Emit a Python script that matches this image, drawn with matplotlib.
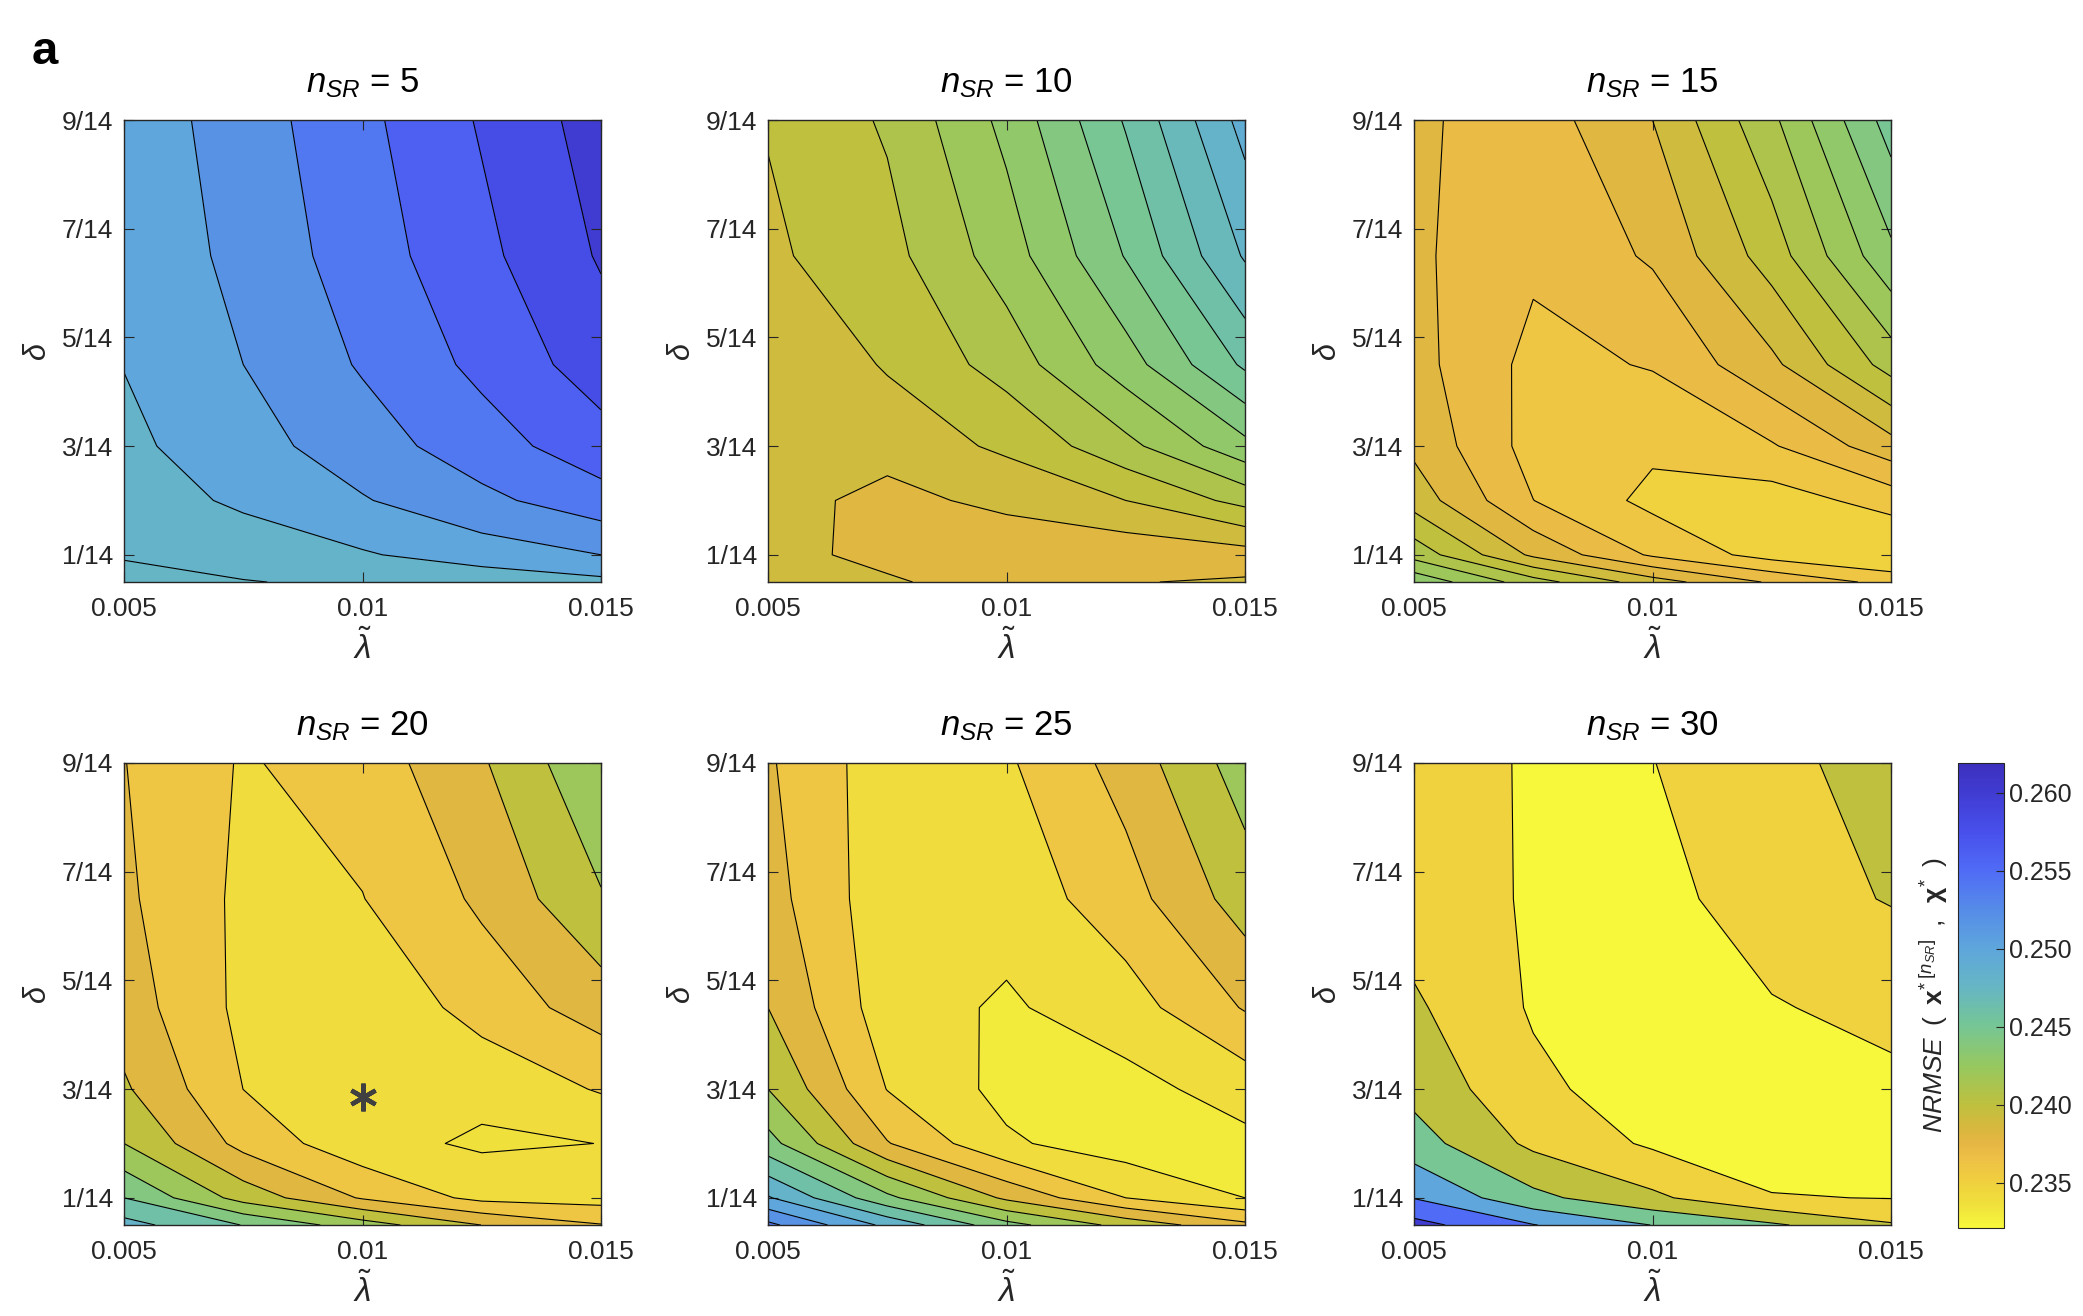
import numpy as np
import matplotlib
matplotlib.use('Agg')
import matplotlib.pyplot as plt
from matplotlib.colors import LinearSegmentedColormap, Normalize

plt.rcParams['font.family'] = 'Liberation Sans'
plt.rcParams['mathtext.fontset'] = 'custom'
plt.rcParams['mathtext.rm'] = 'Liberation Sans'
plt.rcParams['mathtext.it'] = 'Liberation Sans:italic'
plt.rcParams['mathtext.bf'] = 'Liberation Sans:bold'

# grid of the parameter sweep
lam = [0.005, 0.0075, 0.01, 0.0125, 0.015]
delta = [0.5 / 14, 1 / 14, 2 / 14, 3 / 14, 4.5 / 14, 6.5 / 14, 9 / 14]

n_sr = [5, 10, 15, 20, 25, 30]

# NRMSE values, one row per delta (bottom to top), one column per lambda
nrmse_5 = [
    [0.2476, 0.2479, 0.2484, 0.2487, 0.2495],
    [0.2481, 0.2490, 0.2498, 0.2510, 0.2520],
    [0.2491, 0.2503, 0.25185, 0.2535, 0.2552],
    [0.24954, 0.25121, 0.25307, 0.2551, 0.2572],
    [0.25005, 0.2520, 0.2542, 0.2565, 0.2590],
    [0.2504, 0.2526, 0.2550, 0.2575, 0.2602],
    [0.2507, 0.2530, 0.2555, 0.2582, 0.2609],
]
nrmse_10 = [
    [0.2395, 0.23927, 0.2380, 0.23896, 0.2391],
    [0.2397, 0.2384, 0.2380, 0.2383, 0.23856],
    [0.23952, 0.2386, 0.23935, 0.2400, 0.24133],
    [0.2393, 0.23948, 0.24016, 0.2417, 0.2437],
    [0.2392, 0.24008, 0.24142, 0.24353, 0.24618],
    [0.23982, 0.24066, 0.2425, 0.24506, 0.24811],
    [0.24006, 0.24113, 0.24328, 0.2461, 0.24937],
]
nrmse_15 = [
    [0.24374, 0.24144, 0.23945, 0.23786, 0.23667],
    [0.24162, 0.2388, 0.23685, 0.23558, 0.2349],
    [0.23956, 0.23701, 0.23572, 0.23551, 0.2364],
    [0.23878, 0.23661, 0.2362, 0.2369, 0.2386],
    [0.23835, 0.2367, 0.23707, 0.23876, 0.24141],
    [0.23818, 0.2372, 0.23813, 0.24047, 0.24377],
    [0.23817, 0.23748, 0.2390, 0.24177, 0.24546],
]
nrmse_20 = [
    [0.24873, 0.24593, 0.24294, 0.23998, 0.2381],
    [0.2460, 0.2412, 0.2378, 0.23545, 0.2352],
    [0.2420, 0.23735, 0.23468, 0.2337, 0.23402],
    [0.24028, 0.23599, 0.2345, 0.23455, 0.23618],
    [0.23901, 0.2355, 0.2343, 0.23682, 0.2389],
    [0.23836, 0.23556, 0.23595, 0.23835, 0.24183],
    [0.23805, 0.23582, 0.23688, 0.23977, 0.2438],
]
nrmse_25 = [
    [0.2545, 0.2495, 0.2447, 0.2413, 0.2385],
    [0.2502, 0.2445, 0.2396, 0.2360, 0.2340],
    [0.24474, 0.23812, 0.2343, 0.23292, 0.2335],
    [0.2420, 0.23594, 0.23341, 0.23333, 0.23484],
    [0.2400, 0.23488, 0.23374, 0.23511, 0.23816],
    [0.2388, 0.2347, 0.23477, 0.23718, 0.24096],
    [0.23824, 0.23485, 0.23572, 0.2388, 0.24301],
]
nrmse_30 = [
    [0.2617, 0.2552, 0.2499, 0.24578, 0.2405],
    [0.2548, 0.24636, 0.24101, 0.2353, 0.23484],
    [0.24716, 0.2389, 0.23426, 0.2322, 0.2330],
    [0.24345, 0.23612, 0.2325, 0.2324, 0.2335],
    [0.24075, 0.23449, 0.2328, 0.23453, 0.23685],
    [0.2375, 0.2345, 0.23287, 0.23833, 0.24024],
    [0.23866, 0.2342, 0.2349, 0.23834, 0.2425],
]

# contour levels of each panel
levels_5 = [0.248, 0.250, 0.252, 0.254, 0.256, 0.258, 0.260]
levels_10 = [0.239, 0.240, 0.241, 0.242, 0.243, 0.244, 0.245, 0.246, 0.247, 0.248, 0.249]
levels_15 = [0.236, 0.237, 0.238, 0.239, 0.240, 0.241, 0.242, 0.243, 0.244, 0.245]
levels_20 = [0.234, 0.236, 0.238, 0.240, 0.242, 0.244, 0.246, 0.248]
levels_25 = [0.234, 0.236, 0.238, 0.240, 0.242, 0.244, 0.246, 0.248, 0.250, 0.252, 0.254]
levels_30 = [0.235, 0.240, 0.245, 0.250, 0.255, 0.260]

# best setting marker (n_SR = 20 panel)
star_lam = 0.01
star_delta = 2.86 / 14

cbar_ticks = [0.235, 0.240, 0.245, 0.250, 0.255, 0.260]

panels = [nrmse_5, nrmse_10, nrmse_15, nrmse_20, nrmse_25, nrmse_30]
panel_levels = [levels_5, levels_10, levels_15, levels_20, levels_25, levels_30]

# flipped parula-like map, as it looks in the figure
cmap = LinearSegmentedColormap.from_list('parula_r', [
    (0.000, '#f7f83c'),
    (0.047, '#f0e13c'),
    (0.097, '#f0d03e'),
    (0.148, '#eec046'),
    (0.181, '#e6b644'),
    (0.215, '#d7b83e'),
    (0.265, '#bec03e'),
    (0.349, '#96c860'),
    (0.433, '#76c694'),
    (0.517, '#66b6c4'),
    (0.601, '#5ea6dc'),
    (0.685, '#568ce8'),
    (0.768, '#506cf6'),
    (0.852, '#4850ec'),
    (0.936, '#403cd2'),
    (1.000, '#3c30be'),
])
allz = np.concatenate([np.ravel(z) for z in panels])
norm = Normalize(vmin=allz.min() - 0.0001, vmax=allz.max() + 0.0002)

W, H = 2083, 1316
fig = plt.figure(figsize=(W / 100, H / 100), dpi=100)
col_left = [124, 768, 1414]
row_top = [120, 763]
aw, ah = 477, 462
dark = '#262626'

X, Y = np.meshgrid(lam, delta)
for i, (n, z, lev) in enumerate(zip(n_sr, panels, panel_levels)):
    r, c = divmod(i, 3)
    ax = fig.add_axes([col_left[c] / W, 1 - (row_top[r] + ah) / H, aw / W, ah / H])
    Z = np.array(z)
    bounds = [min(Z.min(), lev[0]) - 1e-6] + lev + [max(Z.max(), lev[-1]) + 1e-6]
    fills = [cmap(norm(Z.min()))] + [cmap(norm(v)) for v in lev]
    ax.contourf(X, Y, Z, levels=bounds, colors=fills, antialiased=True)
    ax.contour(X, Y, Z, levels=lev, colors='k', linewidths=0.8)
    if n == 20:
        ax.plot(star_lam, star_delta, marker=(6, 2, 0), ms=20, mew=3.2,
                color='#404040', ls='none')

    ax.set_xlim(0.005, 0.015)
    ax.set_ylim(0.5 / 14, 9 / 14)
    ax.set_xticks([0.005, 0.01, 0.015])
    ax.set_xticklabels(['0.005', '0.01', '0.015'])
    ax.set_yticks([1 / 14, 3 / 14, 5 / 14, 7 / 14, 9 / 14])
    ax.set_yticklabels(['1/14', '3/14', '5/14', '7/14', '9/14'])
    ax.tick_params(direction='in', top=True, right=True, length=7, width=0.8,
                   color=dark, labelcolor=dark, labelsize=19)
    ax.tick_params(axis='x', pad=11)
    ax.tick_params(axis='y', pad=8)
    for s in ax.spines.values():
        s.set_color(dark)
        s.set_linewidth(1.0)
    ax.set_title(r'$n_{SR}$ = %d' % n, fontsize=25, pad=20)
    ax.set_xlabel(r'$\tilde{\lambda}$', fontsize=24, labelpad=6, color=dark)
    ax.set_ylabel(r'$\delta$', fontsize=22, labelpad=6, color=dark)

cax = fig.add_axes([1958 / W, 1 - 1228 / H, 46 / W, 465 / H])
sm = plt.cm.ScalarMappable(norm=norm, cmap=cmap)
cb = fig.colorbar(sm, cax=cax, ticks=cbar_ticks)
cb.ax.set_yticklabels(['%.3f' % t for t in cbar_ticks])
cb.ax.tick_params(direction='in', length=6, width=0.8, color=dark,
                  labelcolor=dark, labelsize=18)
cb.outline.set_edgecolor(dark)
cb.set_label(r'$\mathit{NRMSE}\;\;(\;\;\mathbf{x}^{*\;[n_{SR}]}\;\;,\;\;\mathbf{\chi}^{*}\;\;)$',
             fontsize=19, color=dark, labelpad=6)
cax.yaxis.set_label_position('left')

fig.text(32 / W, 1 - 52 / H, 'a', fontsize=34, fontweight='bold', va='center', ha='left')

fig.savefig('out.png', dpi=100)
